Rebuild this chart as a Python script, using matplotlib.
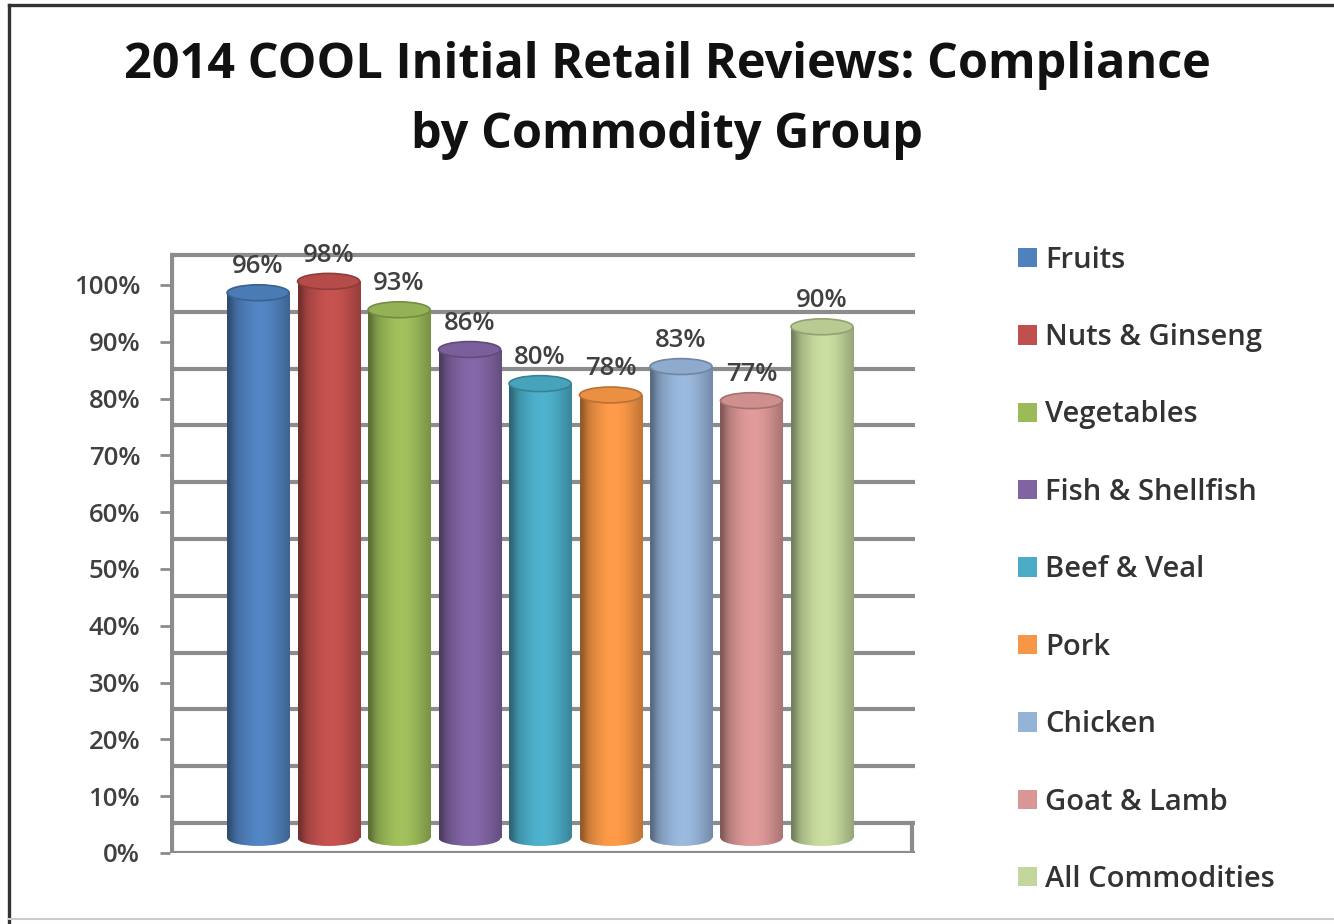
import numpy as np
import matplotlib.pyplot as plt
from matplotlib.patches import Patch, Ellipse
from matplotlib.lines import Line2D
from matplotlib.colors import to_rgb

# valores
grupos = ['Fruits', 'Nuts & Ginseng', 'Vegetables', 'Fish & Shellfish', 'Beef & Veal',
          'Pork', 'Chicken', 'Goat & Lamb', 'All Commodities']
conformidade = [96, 98, 93, 86, 80, 78, 83, 77, 90]
cores = ['#4F81BD', '#C0504D', '#9BBB59', '#8064A2', '#4BACC6',
         '#F79646', '#95B3D7', '#D99694', '#C3D69B']
ticks = list(range(0, 101, 10))

plt.rcParams['font.family'] = ['Open Sans', 'DejaVu Sans']

fig = plt.figure(figsize=(13.34, 9.24), dpi=100)
fig.patch.set_facecolor('white')

# borda da figura (so esquerda e topo escuras)
fig.add_artist(Line2D([9 / 1334, 9 / 1334], [0, 1 - 5 / 924], transform=fig.transFigure,
                      color='#333333', lw=2.4))
fig.add_artist(Line2D([9 / 1334, 1], [1 - 5 / 924, 1 - 5 / 924], transform=fig.transFigure,
                      color='#333333', lw=2.4))
fig.add_artist(Line2D([9 / 1334, 1], [5 / 924, 5 / 924], transform=fig.transFigure,
                      color='#cccccc', lw=1.5))

fig.text(0.5, 1 - 65 / 924, '2014 COOL Initial Retail Reviews: Compliance',
         ha='center', va='center', fontsize=35, fontweight='bold', color='#111111')
fig.text(0.5, 1 - 135 / 924, 'by Commodity Group',
         ha='center', va='center', fontsize=35, fontweight='bold', color='#111111')

ax = fig.add_axes([170 / 1334, 1 - 853 / 924, 745 / 1334, (853 - 240) / 924])
ymax = (853 - 240) / 5.68

fundo = 5.28      # deslocamento da parede de tras
meio = fundo / 2  # profundidade das barras
cinza = '#8c8c8c'

# grade na parede de tras
for t in ticks:
    ax.plot([-1.25, 9.32], [t + fundo, t + fundo], color=cinza, lw=3.0, solid_capstyle='butt', zorder=1)
# chao
ax.plot([-1.25, 9.32], [0, 0], color=cinza, lw=3.0, solid_capstyle='butt', zorder=1)
ax.plot([9.28, 9.28], [0, fundo], color=cinza, lw=3.0, zorder=1)
ax.plot([-1.22, -1.22], [0, 100 + fundo], color=cinza, lw=3.0, zorder=1)

ax.set_yticks(ticks)
ax.set_yticklabels([f'{t}%' for t in ticks], fontsize=18.5, color='#404040', fontweight='semibold')
ax.tick_params(axis='y', length=7.5, width=2, color=cinza, pad=14)
ax.set_xticks([])
for s in ax.spines.values():
    s.set_visible(False)

largura = 0.88
alt_elipse = 2.8
x = np.arange(len(grupos))


def gradiente(cor):
    base = np.array(to_rgb(cor))
    u = np.linspace(0, 1, 200)
    luz = 0.72 + 0.32 * np.sin(np.pi * (u * 0.85 + 0.05)) ** 1.5
    luz = luz - 0.15 * np.exp(-((u - 0.02) / 0.08) ** 2)
    img = np.clip(base[None, :] * luz[:, None], 0, 1)
    return img[None, :, :]


barras = ax.bar(x, conformidade, width=largura, bottom=meio, color='none', zorder=3)
for xi, v, cor, b in zip(x, conformidade, cores, barras):
    img = gradiente(cor)
    ext = [xi - largura / 2, xi + largura / 2, meio - alt_elipse, v + meio]
    el_base = Ellipse((xi, meio), largura, alt_elipse, transform=ax.transData)
    ax.add_patch(el_base)
    el_base.set_visible(False)
    im1 = ax.imshow(img, extent=ext, aspect='auto', zorder=3, interpolation='bilinear')
    im1.set_clip_path(b)
    im2 = ax.imshow(img, extent=ext, aspect='auto', zorder=3, interpolation='bilinear')
    im2.set_clip_path(el_base)
    base = np.array(to_rgb(cor))
    topo = Ellipse((xi, v + meio), largura, alt_elipse,
                   facecolor=np.clip(base * 0.95, 0, 1),
                   edgecolor=np.clip(base * 0.75, 0, 1), lw=1.2, zorder=4)
    ax.add_patch(topo)
    ax.text(xi, v + meio + 4.6, f'{v}%', ha='center', va='center',
            fontsize=18.5, color='#404040', fontweight='semibold', zorder=5)

ax.set_ylim(0, ymax)
ax.set_xlim(-1.25, 9.32)

alca = [Patch(facecolor=c, edgecolor='none') for c in cores]
leg = fig.legend(alca, grupos, loc='upper left', bbox_to_anchor=(1006 / 1334, 1 - 234 / 924),
                 frameon=False, fontsize=21, handlelength=0.65, handleheight=0.65,
                 handletextpad=0.3, labelspacing=1.66, labelcolor='#333333',
                 borderaxespad=0)
for t in leg.get_texts():
    t.set_fontweight('semibold')

fig.savefig('out.png', dpi=100)
